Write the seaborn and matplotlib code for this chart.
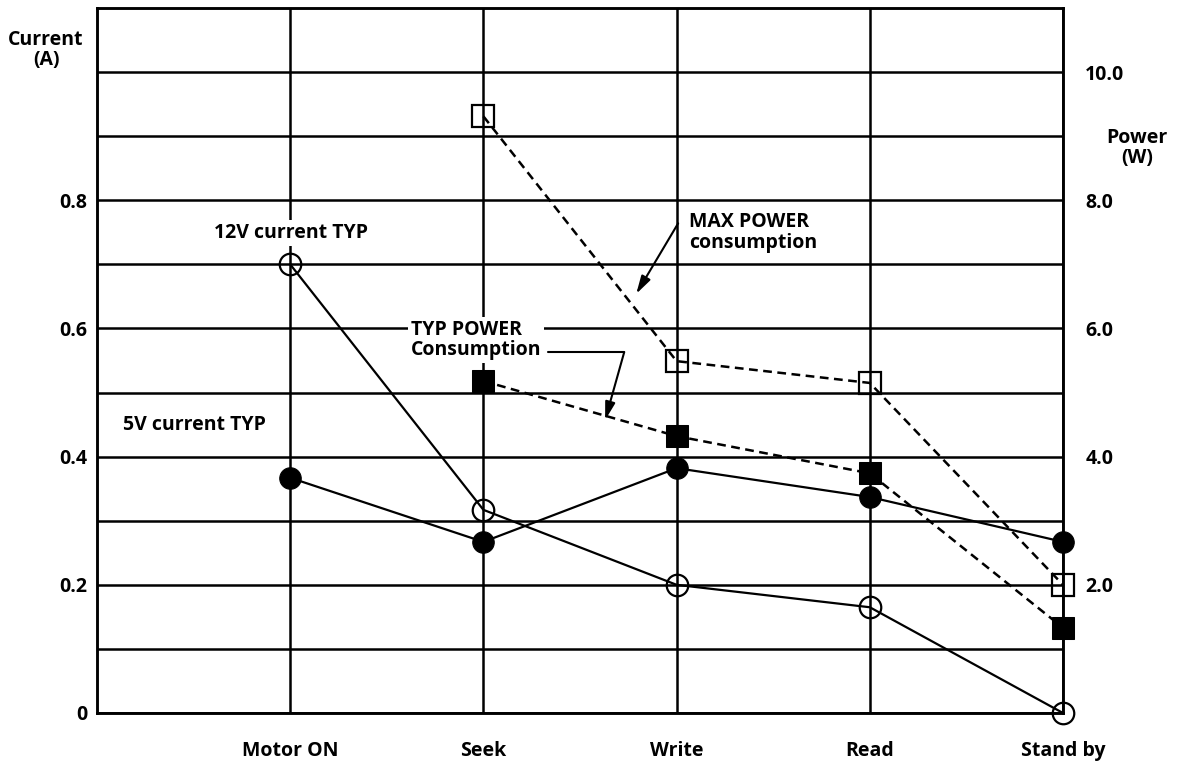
import numpy as np
import pandas as pd
import matplotlib
matplotlib.use("Agg")
import matplotlib.pyplot as plt
import seaborn as sns

categories = ["Motor ON", "Seek", "Write", "Read", "Stand by"]
current_12v = [0.70, 0.317, 0.20, 0.165, 0.0]
current_5v = [0.367, 0.267, 0.382, 0.337, 0.267]
power_categories = ["Seek", "Write", "Read", "Stand by"]
max_power = [9.31, 5.49, 5.15, 2.0]
typ_power = [5.18, 4.32, 3.74, 1.33]
left_ticks = [0.0, 0.1, 0.2, 0.3, 0.4, 0.5, 0.6, 0.7, 0.8, 0.9, 1.0]
left_labels = ["0", "", "0.2", "", "0.4", "", "0.6", "", "0.8", "", ""]
right_ticks = [2, 4, 6, 8, 10]
right_labels = ["2.0", "4.0", "6.0", "8.0", "10.0"]

sns.set_theme(style="white")
plt.rcParams["font.family"] = ["Open Sans", "DejaVu Sans"]
plt.rcParams["font.weight"] = "bold"
plt.rcParams["text.color"] = "black"
plt.rcParams["xtick.color"] = "black"
plt.rcParams["ytick.color"] = "black"

pos = {c: i for i, c in enumerate(categories)}
df_cur = pd.DataFrame({"x": [pos[c] for c in categories],
                       "i12": current_12v, "i5": current_5v})
df_pow = pd.DataFrame({"x": [pos[c] for c in power_categories],
                       "pmax": max_power, "ptyp": typ_power})

fig = plt.figure(figsize=(11.86, 7.68), dpi=100)
ax = fig.add_axes([97/1186, 55/768, (1063-97)/1186, (713-8)/768])
ax2 = ax.twinx()

lw = 1.8
fs = 14
ax.set_xlim(-1, 4)
ax.set_ylim(0, 1.1)
ax2.set_ylim(0, 11)

ax.set_xticks(range(len(categories)))
ax.set_xticklabels(categories)
ax.set_yticks(left_ticks)
ax.set_yticklabels(left_labels)
ax2.set_yticks(right_ticks)
ax2.set_yticklabels(right_labels)

ax.grid(True, color="black", linewidth=lw)
ax2.grid(False)
for a in (ax, ax2):
    for s in a.spines.values():
        s.set_color("black")
        s.set_linewidth(lw)
ax.tick_params(axis="x", length=0, pad=20, labelsize=fs, labelcolor="black")
ax.tick_params(axis="y", length=0, pad=7, labelsize=fs, labelcolor="black")
ax2.tick_params(axis="y", length=0, pad=16, labelsize=fs, labelcolor="black")

ms = 15.5
sns.lineplot(data=df_cur, x="x", y="i12", ax=ax, color="black", linewidth=1.6,
             marker="o", markersize=ms, markerfacecolor="none",
             markeredgecolor="black", markeredgewidth=1.6, zorder=5, clip_on=False)
sns.lineplot(data=df_cur, x="x", y="i5", ax=ax, color="black", linewidth=1.6,
             marker="o", markersize=ms, markerfacecolor="black",
             markeredgecolor="black", zorder=5, clip_on=False)
sns.lineplot(data=df_pow, x="x", y="pmax", ax=ax2, color="black", linewidth=1.8,
             linestyle=(0, (3.5, 2.2)), marker="s", markersize=ms, markerfacecolor="none",
             markeredgecolor="black", markeredgewidth=1.6, zorder=5, clip_on=False)
sns.lineplot(data=df_pow, x="x", y="ptyp", ax=ax2, color="black", linewidth=1.8,
             linestyle=(0, (3.5, 2.2)), marker="s", markersize=ms, markerfacecolor="black",
             markeredgecolor="black", zorder=5, clip_on=False)

ax.set_xlabel("")
ax.set_ylabel("")
ax2.set_ylabel("")

bbox = dict(facecolor="white", edgecolor="none", pad=2)
ax.text(-0.393, 0.749, "12V current TYP", ha="left", va="center", fontsize=fs,
        fontweight="bold", bbox=bbox, zorder=6)
ax.text(-0.864, 0.449, "5V current TYP", ha="left", va="center", fontsize=fs,
        fontweight="bold", bbox=bbox, zorder=6)
ax.text(0.626, 0.582, "TYP POWER\nConsumption", ha="left", va="center", fontsize=fs,
        fontweight="bold", bbox=bbox, zorder=6, linespacing=1.05)
ax.text(2.065, 0.75, "MAX POWER\nconsumption", ha="left", va="center", fontsize=fs,
        fontweight="bold", zorder=6, linespacing=1.05)

ax.plot([1.335, 1.729], [0.5632, 0.5632], color="black", linewidth=1.5, zorder=6)
ax.annotate("", xy=(1.630, 0.457), xytext=(1.729, 0.5632),
            arrowprops=dict(arrowstyle="-|>,head_length=0.9,head_width=0.25",
                            color="black", linewidth=1.5, shrinkA=0, shrinkB=0),
            zorder=6)
ax.annotate("", xy=(1.791, 0.654), xytext=(2.008, 0.764),
            arrowprops=dict(arrowstyle="-|>,head_length=0.9,head_width=0.25",
                            color="black", linewidth=1.5, shrinkA=0, shrinkB=0),
            zorder=6)

fig.text(46/1186, 1 - 50/768, "Current\n(A)", ha="center", va="center",
         fontsize=fs, fontweight="bold", linespacing=1.0)
fig.text(1137/1186, 1 - 148/768, "Power\n(W)", ha="center", va="center",
         fontsize=fs, fontweight="bold", linespacing=1.0)

fig.savefig("out.png", dpi=100, facecolor="white")
